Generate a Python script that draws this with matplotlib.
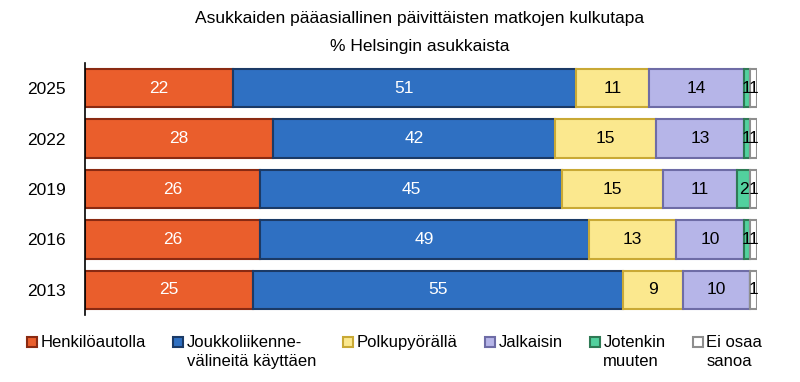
import matplotlib
matplotlib.use("Agg")
import matplotlib.pyplot as plt
from matplotlib.patches import Patch, Rectangle
from matplotlib.legend_handler import HandlerPatch
import numpy as np

years = ["2025", "2022", "2019", "2016", "2013"]
categories = ["Henkilöautolla\n ", "Joukkoliikenne-\nvälineitä käyttäen", "Polkupyörällä\n ",
              "Jalkaisin\n ", "Jotenkin\nmuuten", "Ei osaa\nsanoa"]
henkiloauto = [22, 28, 26, 26, 25]
joukkoliikenne = [51, 42, 45, 49, 55]
polkupyora = [11, 15, 15, 13, 9]
jalkaisin = [14, 13, 11, 10, 10]
jotenkin = [1, 1, 2, 1, 0]
ei_osaa = [1, 1, 1, 1, 1]
series = [henkiloauto, joukkoliikenne, polkupyora, jalkaisin, jotenkin, ei_osaa]

fills = ["#EA5E2C", "#2F70C2", "#FBE88E", "#B6B5E8", "#52D19E", "#FFFFFF"]
edges = ["#8A2A12", "#1B3A66", "#C9A935", "#6E6CA6", "#2F7A55", "#8E8E8E"]
txtcol = ["white", "white", "black", "black", "black", "black"]

plt.rcParams['font.family'] = ['Liberation Sans', 'DejaVu Sans']

fig = plt.figure(figsize=(8.0, 3.82), dpi=100)
ax = fig.add_axes([85/800, 1-315/382, (757-85)/800, (315-63)/382])

y = np.arange(len(years))
left = np.zeros(len(years))
for vals, fc, ec, tc in zip(series, fills, edges, txtcol):
    vals = np.array(vals, dtype=float)
    ax.barh(y, vals, left=left, height=0.76, color=fc, edgecolor=ec, linewidth=1.5)
    for yi, v, l in zip(y, vals, left):
        if v > 0:
            ax.text(l + v/2, yi, f"{int(v)}", ha="center", va="center",
                    color=tc, fontsize=12.5)
    left += vals

ax.set_xlim(0, 100)
ax.set_ylim(len(years)-0.5, -0.5)
ax.set_yticks(y)
ax.set_yticklabels(years, fontsize=12.5)
ax.tick_params(axis='y', length=0, pad=14)
ax.set_xticks([])
for s in ["top", "right", "bottom"]:
    ax.spines[s].set_visible(False)
ax.spines["left"].set_color("black")
ax.spines["left"].set_linewidth(1.2)

fig.text(420/800, 1-18/382, "Asukkaiden pääasiallinen päivittäisten matkojen kulkutapa",
         ha="center", va="center", fontsize=12.5)
fig.text(420/800, 1-47/382, "% Helsingin asukkaista", ha="center", va="center", fontsize=12.5)


def top_patch(legend, orig_handle, xdescent, ydescent, width, height, fontsize):
    return Rectangle((-xdescent, -ydescent + 7.5), width, height)


handles = [Patch(facecolor=fc, edgecolor=ec, linewidth=1.5) for fc, ec in zip(fills, edges)]
leg = fig.legend(handles, categories, loc="upper left", bbox_to_anchor=(27/800, 1-335/382),
                 ncol=6, frameon=False, fontsize=12, handlelength=0.6, handleheight=0.6,
                 handletextpad=0.2, columnspacing=1.65, borderaxespad=0, borderpad=0,
                 handler_map={Patch: HandlerPatch(patch_func=top_patch)})
for t in leg.get_texts():
    t.set_linespacing(1.35)

fig.savefig("out.png", dpi=100)
